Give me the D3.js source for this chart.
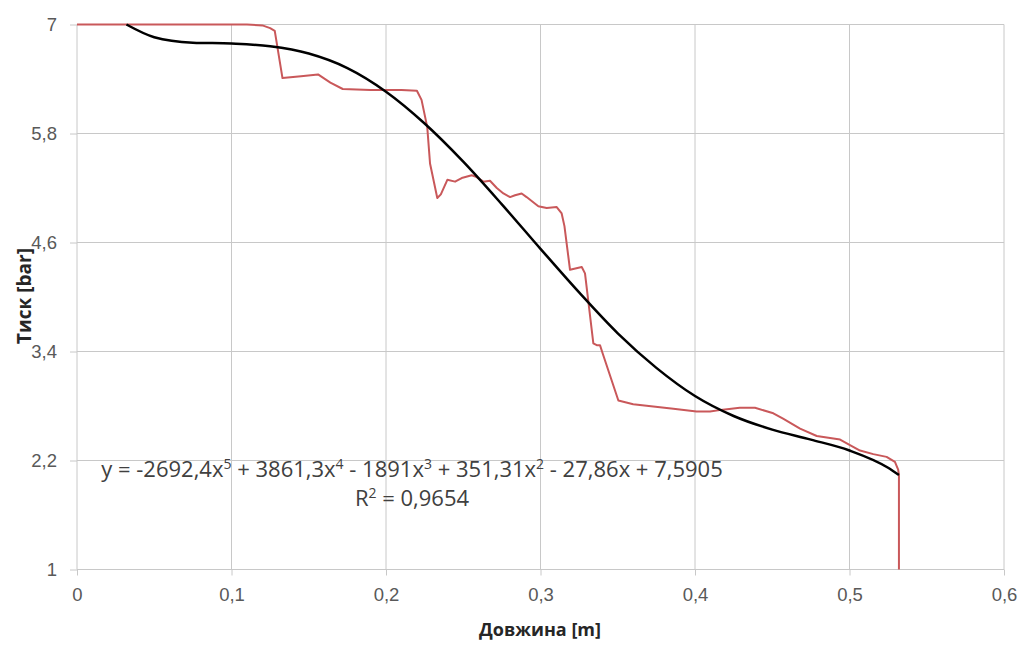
<!DOCTYPE html>
<meta charset="utf-8">
<style>
    body { margin: 0; background: #fff; }
    svg { display: block; font-family: "Open Sans", sans-serif; }
    .grid line { stroke: #c8c8c8; stroke-width: 1; }
    .tick text { fill: #595959; font-size: 18.5px; }
    .axis path, .axis line { stroke: #c8c8c8; }
    .title { fill: #262626; font-weight: bold; }
    .eq { fill: #404040; font-size: 22px; }
</style>
<body>
<script src="https://cdn.jsdelivr.net/npm/d3@7"></script>
<script>

    var width = 1026,
        height = 645;

    // axis ticks
    var xTicks = [0, 0.1, 0.2, 0.3, 0.4, 0.5, 0.6];
    var xTickLabels = ["0", "0,1", "0,2", "0,3", "0,4", "0,5", "0,6"];
    var yTicks = [1, 2.2, 3.4, 4.6, 5.8, 7];
    var yTickLabels = ["1", "2,2", "3,4", "4,6", "5,8", "7"];

    var measX = [0, 0.11, 0.12, 0.125, 0.128, 0.133, 0.145, 0.156, 0.164, 0.172, 0.19, 0.21, 0.22,
        0.223, 0.2267, 0.2285, 0.2332, 0.2355, 0.2397, 0.2447, 0.249, 0.2555, 0.2587, 0.263, 0.2673,
        0.2717, 0.276, 0.2803, 0.2835, 0.2878, 0.291, 0.2986, 0.304, 0.3105, 0.3137, 0.3155, 0.3191,
        0.3267, 0.3288, 0.3342, 0.3364, 0.3385, 0.3402, 0.3504, 0.36, 0.386, 0.401, 0.4097, 0.418,
        0.429, 0.4388, 0.4507, 0.457, 0.468, 0.4788, 0.4939, 0.5003, 0.5068, 0.5154, 0.524, 0.5294,
        0.5315, 0.532, 0.532];
    var measY = [7, 7, 6.99, 6.96, 6.93, 6.41, 6.43, 6.45, 6.36, 6.29, 6.28, 6.28, 6.27,
        6.17, 5.87, 5.47, 5.09, 5.13, 5.29, 5.27, 5.31, 5.34, 5.32, 5.27, 5.28,
        5.2, 5.14, 5.1, 5.12, 5.14, 5.1, 5.0, 4.98, 4.99, 4.92, 4.78, 4.3,
        4.33, 4.26, 3.49, 3.47, 3.47, 3.38, 2.86, 2.82, 2.77, 2.74, 2.74, 2.76,
        2.78, 2.78, 2.72, 2.66, 2.55, 2.47, 2.43, 2.37, 2.31, 2.27, 2.24, 2.185,
        2.1, 2.04, 1.0];

    // polynomial trend line (black)
    var trendX = [0.032, 0.05, 0.075, 0.1, 0.125, 0.15, 0.175, 0.2, 0.225, 0.25, 0.275, 0.3,
        0.325, 0.35, 0.375, 0.4, 0.425, 0.45, 0.475, 0.5, 0.525, 0.532];
    var trendY = [7.0, 6.86, 6.8, 6.79, 6.76, 6.68, 6.52, 6.26, 5.91, 5.49, 5.02, 4.53,
        4.05, 3.6, 3.22, 2.91, 2.69, 2.54, 2.43, 2.31, 2.12, 2.04];

    var margin = {left: 77, right: 22, top: 24.5, bottom: 75.5};
    var w = width - margin.left - margin.right,
        h = height - margin.top - margin.bottom;

    var svg = d3.select("body").append("svg")
        .attr("width", width)
        .attr("height", height);

    var g = svg.append("g")
        .attr("transform", "translate(" + margin.left + "," + margin.top + ")");

    var x = d3.scaleLinear().domain([0, 0.6]).range([0, w]);
    var y = d3.scaleLinear().domain([1, 7]).range([h, 0]);

    // grid
    var grid = g.append("g").attr("class", "grid");
    grid.selectAll("line.v").data(xTicks).enter().append("line")
        .attr("x1", function(d){ return x(d); })
        .attr("x2", function(d){ return x(d); })
        .attr("y1", 0).attr("y2", h);
    grid.selectAll("line.h").data(yTicks).enter().append("line")
        .attr("x1", 0).attr("x2", w)
        .attr("y1", function(d){ return y(d); })
        .attr("y2", function(d){ return y(d); });

    // axes
    g.append("g")
        .attr("class", "axis")
        .attr("transform", "translate(0," + h + ")")
        .call(d3.axisBottom(x).tickValues(xTicks).tickSize(6).tickPadding(12)
            .tickFormat(function(d, i){ return xTickLabels[i]; }));
    g.append("g")
        .attr("class", "axis")
        .call(d3.axisLeft(y).tickValues(yTicks).tickSize(7).tickPadding(13)
            .tickFormat(function(d, i){ return yTickLabels[i]; }));
    g.selectAll(".axis .domain").remove();

    var line = d3.line()
        .x(function(d){ return x(d[0]); })
        .y(function(d){ return y(d[1]); });

    g.append("path")
        .datum(d3.zip(measX, measY))
        .attr("fill", "none")
        .attr("stroke", "#c9585a")
        .attr("stroke-width", 2)
        .attr("stroke-linejoin", "round")
        .attr("d", line);

    g.append("path")
        .datum(d3.zip(trendX, trendY))
        .attr("fill", "none")
        .attr("stroke", "#000")
        .attr("stroke-width", 2.5)
        .attr("d", line.curve(d3.curveMonotoneX));

    // trend equation: [text, superscript]
    var eqParts = [["y = -2692,4x", "5"], [" + 3861,3x", "4"], [" - 1891x", "3"], [" + 351,31x", "2"], [" - 27,86x + 7,5905", ""]];
    var eq = svg.append("text").attr("class", "eq")
        .attr("x", 412).attr("y", 477).attr("text-anchor", "middle");
    var shift = 0;
    eqParts.forEach(function(p){
        eq.append("tspan").attr("dy", shift).text(p[0]);
        shift = 0;
        if (p[1]) {
            eq.append("tspan").attr("dy", -8).attr("font-size", "14px").text(p[1]);
            shift = 8;
        }
    });
    var r2 = svg.append("text").attr("class", "eq")
        .attr("x", 412).attr("y", 506).attr("text-anchor", "middle");
    r2.append("tspan").text("R");
    r2.append("tspan").attr("dy", -8).attr("font-size", "14px").text("2");
    r2.append("tspan").attr("dy", 8).text(" = 0,9654");

    // axis titles
    svg.append("text").attr("class", "title")
        .attr("x", 540).attr("y", 636).attr("text-anchor", "middle")
        .attr("font-size", "18px")
        .text("Довжина [m]");
    svg.append("text").attr("class", "title")
        .attr("transform", "translate(31,296) rotate(-90)")
        .attr("text-anchor", "middle")
        .attr("font-size", "19px")
        .text("Тиск [bar]");

</script>
